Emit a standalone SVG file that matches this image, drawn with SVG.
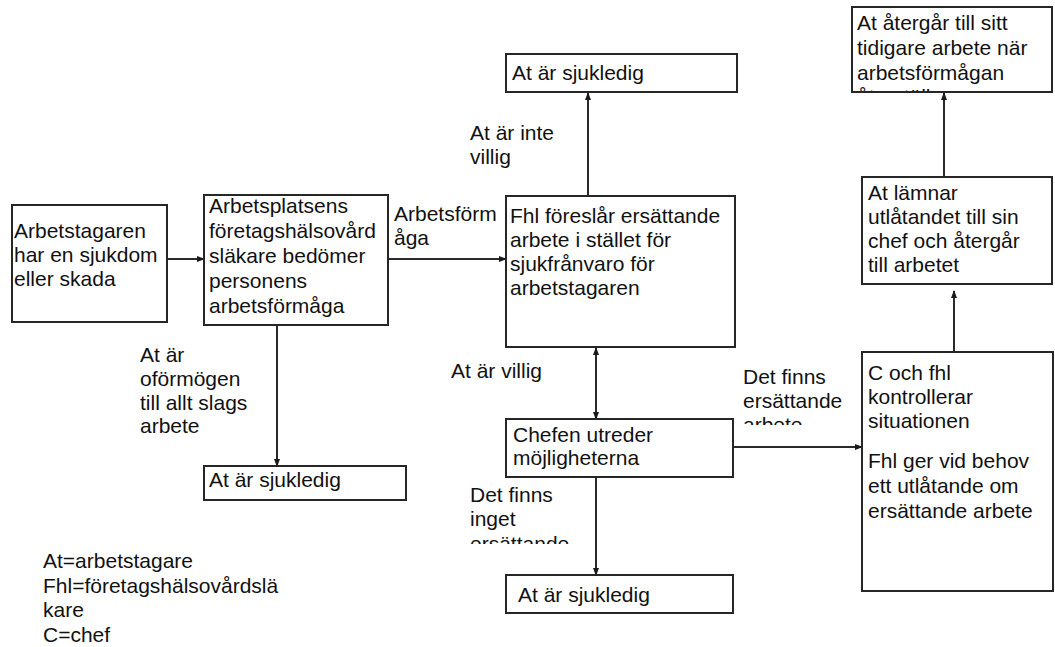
<svg xmlns="http://www.w3.org/2000/svg" width="1055" height="647" viewBox="0 0 1055 647">
<style>
  .box { fill: #ffffff; stroke: #262626; stroke-width: 2; }
  .t { font-family: "Liberation Sans", Arial, sans-serif; font-size: 21px; fill: #111111; }
  .conn { stroke: #2a2a2a; stroke-width: 2; fill: none; }
</style>
<defs>
  <marker id="ah" viewBox="0 0 8 8" refX="7" refY="4" markerWidth="4" markerHeight="4" orient="auto-start-reverse" markerUnits="strokeWidth">
    <path d="M0,1 L8,4 L0,7 Z" fill="#1a1a1a"/>
  </marker>
  <clipPath id="clipG"><rect x="852" y="7" width="200" height="84"/></clipPath>
  <clipPath id="clipL1"><rect x="736" y="360" width="125" height="65"/></clipPath>
  <clipPath id="clipL2"><rect x="460" y="480" width="130" height="64"/></clipPath>
</defs>
<rect x="0" y="0" width="1055" height="647" fill="#ffffff"/>

<g id="connectors">
  <line class="conn" x1="167" y1="259" x2="204" y2="259" marker-end="url(#ah)"/>
  <line class="conn" x1="388" y1="259" x2="506" y2="259" marker-end="url(#ah)"/>
  <line class="conn" x1="588" y1="196" x2="588" y2="93" marker-end="url(#ah)"/>
  <line class="conn" x1="277" y1="325" x2="277" y2="466" marker-end="url(#ah)"/>
  <line class="conn" x1="596" y1="348" x2="596" y2="419" marker-start="url(#ah)" marker-end="url(#ah)"/>
  <line class="conn" x1="596" y1="477" x2="596" y2="575" marker-end="url(#ah)"/>
  <line class="conn" x1="733" y1="447" x2="862" y2="447" marker-end="url(#ah)"/>
  <line class="conn" x1="954" y1="352" x2="954" y2="291" marker-end="url(#ah)"/>
  <line class="conn" x1="944" y1="177" x2="944" y2="93" marker-end="url(#ah)"/>
</g>

<g id="labels">
  <text class="t" x="394" y="221">Arbetsförm</text>
  <text class="t" x="394" y="245">åga</text>
  <text class="t" x="470" y="140">At är inte</text>
  <text class="t" x="470" y="164">villig</text>
  <text class="t" x="140" y="362">At är</text>
  <text class="t" x="140" y="386">oförmögen</text>
  <text class="t" x="140" y="410">till allt slags</text>
  <text class="t" x="140" y="433">arbete</text>
  <text class="t" x="451" y="378">At är villig</text>
  <g clip-path="url(#clipL1)">
    <text class="t" x="743" y="384">Det finns</text>
    <text class="t" x="743" y="408">ersättande</text>
    <text class="t" x="743" y="432">arbete</text>
  </g>
  <g clip-path="url(#clipL2)">
    <text class="t" x="470" y="502">Det finns</text>
    <text class="t" x="470" y="526">inget</text>
    <text class="t" x="470" y="551">ersättande</text>
  </g>
</g>

<g id="node-arbetstagaren">
  <rect class="box" x="12" y="205" width="155" height="117"/>
  <text class="t" x="14" y="238">Arbetstagaren</text>
  <text class="t" x="14" y="262">har en sjukdom</text>
  <text class="t" x="14" y="286">eller skada</text>
</g>

<g id="node-bedomning">
  <rect class="box" x="204" y="195" width="184" height="130"/>
  <text class="t" x="209" y="213">Arbetsplatsens</text>
  <text class="t" x="209" y="238">företagshälsovård</text>
  <text class="t" x="209" y="263">släkare bedömer</text>
  <text class="t" x="209" y="288">personens</text>
  <text class="t" x="209" y="313">arbetsförmåga</text>
</g>

<g id="node-sjukledig-1">
  <rect class="box" x="204" y="466" width="202" height="34"/>
  <text class="t" x="209" y="487">At är sjukledig</text>
</g>

<g id="node-fhl-foreslar">
  <rect class="box" x="506" y="196" width="229" height="151"/>
  <text class="t" x="510" y="223">Fhl föreslår ersättande</text>
  <text class="t" x="510" y="247">arbete i stället för</text>
  <text class="t" x="510" y="271">sjukfrånvaro för</text>
  <text class="t" x="510" y="295">arbetstagaren</text>
</g>

<g id="node-sjukledig-2">
  <rect class="box" x="506" y="54" width="231" height="38"/>
  <text class="t" x="512" y="80">At är sjukledig</text>
</g>

<g id="node-chefen">
  <rect class="box" x="506" y="419" width="227" height="58"/>
  <text class="t" x="513" y="442">Chefen utreder</text>
  <text class="t" x="513" y="465">möjligheterna</text>
</g>

<g id="node-sjukledig-3">
  <rect class="box" x="506" y="575" width="227" height="38"/>
  <text class="t" x="518" y="602">At är sjukledig</text>
</g>

<g id="node-kontroll">
  <rect class="box" x="862" y="352" width="191" height="239"/>
  <text class="t" x="868" y="380">C och fhl</text>
  <text class="t" x="868" y="404">kontrollerar</text>
  <text class="t" x="868" y="428">situationen</text>
  <text class="t" x="868" y="468">Fhl ger vid behov</text>
  <text class="t" x="868" y="493">ett utlåtande om</text>
  <text class="t" x="868" y="518">ersättande arbete</text>
</g>

<g id="node-lamnar">
  <rect class="box" x="862" y="177" width="190" height="107"/>
  <text class="t" x="868" y="200">At lämnar</text>
  <text class="t" x="868" y="224">utlåtandet till sin</text>
  <text class="t" x="868" y="248">chef och återgår</text>
  <text class="t" x="868" y="272">till arbetet</text>
</g>

<g id="node-atergar">
  <rect class="box" x="852" y="7" width="200" height="85"/>
  <g clip-path="url(#clipG)">
    <text class="t" x="857" y="30">At återgår till sitt</text>
    <text class="t" x="857" y="55">tidigare arbete när</text>
    <text class="t" x="857" y="80">arbetsförmågan</text>
    <text class="t" x="857" y="104">återställs</text>
  </g>
</g>

<g id="legend">
  <text class="t" x="43" y="568">At=arbetstagare</text>
  <text class="t" x="43" y="593">Fhl=företagshälsovårdslä</text>
  <text class="t" x="43" y="617">kare</text>
  <text class="t" x="43" y="642">C=chef</text>
</g>
</svg>
